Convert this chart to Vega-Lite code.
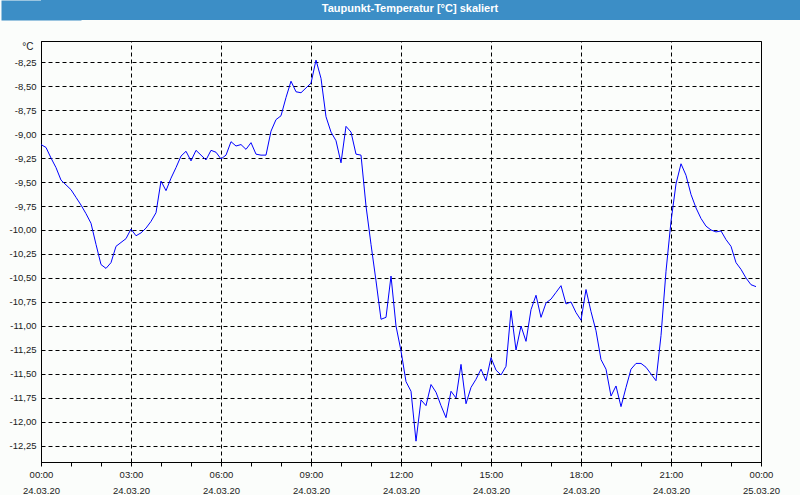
{
  "$schema": "https://vega.github.io/schema/vega-lite/v6.json",
  "padding": 0,
  "background": "#fbfdfb",
  "spacing": 20,
  "columns": 1,
  "align": "none",
  "config": {
    "font": "Liberation Sans",
    "view": {"stroke": null}
  },
  "concat": [
    {
      "width": 760,
      "height": 20,
      "view": {"fill": "#3c8ec6", "stroke": null},
      "data": {"values": [{"title": "Taupunkt-Temperatur [°C] skaliert"}]},
      "mark": {"type": "text", "color": "#ffffff", "font": "Liberation Sans", "fontSize": 11, "fontWeight": "bold", "baseline": "middle", "align": "center", "dx": -11, "dy": -1.5},
      "encoding": {
        "text": {"field": "title", "type": "nominal"},
        "y": {
          "datum": 0,
          "type": "quantitative",
          "scale": {"domain": [-1, 1]},
          "axis": {"title": null, "labels": false, "ticks": false, "grid": false, "domain": true, "domainColor": "#3c8ec6", "domainWidth": 80, "domainCap": "butt"}
        }
      }
    },
    {
      "width": 720,
      "height": 421,
      "view": {"stroke": "#000000", "strokeWidth": 1},
      "data": {"values": [
        {"t": "2020-03-24T00:00:00", "v": -9.11},
        {"t": "2020-03-24T00:10:00", "v": -9.14},
        {"t": "2020-03-24T00:20:00", "v": -9.25},
        {"t": "2020-03-24T00:30:00", "v": -9.35},
        {"t": "2020-03-24T00:40:00", "v": -9.48},
        {"t": "2020-03-24T00:50:00", "v": -9.53},
        {"t": "2020-03-24T01:00:00", "v": -9.58},
        {"t": "2020-03-24T01:10:00", "v": -9.66},
        {"t": "2020-03-24T01:20:00", "v": -9.74},
        {"t": "2020-03-24T01:30:00", "v": -9.83},
        {"t": "2020-03-24T01:40:00", "v": -9.93},
        {"t": "2020-03-24T01:50:00", "v": -10.15},
        {"t": "2020-03-24T02:00:00", "v": -10.36},
        {"t": "2020-03-24T02:10:00", "v": -10.40},
        {"t": "2020-03-24T02:20:00", "v": -10.34},
        {"t": "2020-03-24T02:30:00", "v": -10.17},
        {"t": "2020-03-24T02:40:00", "v": -10.13},
        {"t": "2020-03-24T02:50:00", "v": -10.09},
        {"t": "2020-03-24T03:00:00", "v": -9.99},
        {"t": "2020-03-24T03:10:00", "v": -10.06},
        {"t": "2020-03-24T03:20:00", "v": -10.03},
        {"t": "2020-03-24T03:30:00", "v": -9.98},
        {"t": "2020-03-24T03:40:00", "v": -9.91},
        {"t": "2020-03-24T03:50:00", "v": -9.82},
        {"t": "2020-03-24T04:00:00", "v": -9.49},
        {"t": "2020-03-24T04:10:00", "v": -9.59},
        {"t": "2020-03-24T04:20:00", "v": -9.46},
        {"t": "2020-03-24T04:30:00", "v": -9.35},
        {"t": "2020-03-24T04:40:00", "v": -9.23},
        {"t": "2020-03-24T04:50:00", "v": -9.18},
        {"t": "2020-03-24T05:00:00", "v": -9.28},
        {"t": "2020-03-24T05:10:00", "v": -9.17},
        {"t": "2020-03-24T05:20:00", "v": -9.22},
        {"t": "2020-03-24T05:30:00", "v": -9.27},
        {"t": "2020-03-24T05:40:00", "v": -9.17},
        {"t": "2020-03-24T05:50:00", "v": -9.19},
        {"t": "2020-03-24T06:00:00", "v": -9.26},
        {"t": "2020-03-24T06:10:00", "v": -9.22},
        {"t": "2020-03-24T06:20:00", "v": -9.08},
        {"t": "2020-03-24T06:30:00", "v": -9.125},
        {"t": "2020-03-24T06:40:00", "v": -9.11},
        {"t": "2020-03-24T06:50:00", "v": -9.16},
        {"t": "2020-03-24T07:00:00", "v": -9.09},
        {"t": "2020-03-24T07:10:00", "v": -9.21},
        {"t": "2020-03-24T07:20:00", "v": -9.22},
        {"t": "2020-03-24T07:30:00", "v": -9.22},
        {"t": "2020-03-24T07:40:00", "v": -8.97},
        {"t": "2020-03-24T07:50:00", "v": -8.85},
        {"t": "2020-03-24T08:00:00", "v": -8.81},
        {"t": "2020-03-24T08:10:00", "v": -8.62},
        {"t": "2020-03-24T08:20:00", "v": -8.45},
        {"t": "2020-03-24T08:30:00", "v": -8.56},
        {"t": "2020-03-24T08:40:00", "v": -8.57},
        {"t": "2020-03-24T08:50:00", "v": -8.52},
        {"t": "2020-03-24T09:00:00", "v": -8.47},
        {"t": "2020-03-24T09:10:00", "v": -8.23},
        {"t": "2020-03-24T09:20:00", "v": -8.42},
        {"t": "2020-03-24T09:30:00", "v": -8.82},
        {"t": "2020-03-24T09:40:00", "v": -8.98},
        {"t": "2020-03-24T09:50:00", "v": -9.07},
        {"t": "2020-03-24T10:00:00", "v": -9.30},
        {"t": "2020-03-24T10:10:00", "v": -8.92},
        {"t": "2020-03-24T10:20:00", "v": -8.98},
        {"t": "2020-03-24T10:30:00", "v": -9.21},
        {"t": "2020-03-24T10:40:00", "v": -9.22},
        {"t": "2020-03-24T10:50:00", "v": -9.75},
        {"t": "2020-03-24T11:00:00", "v": -10.15},
        {"t": "2020-03-24T11:10:00", "v": -10.53},
        {"t": "2020-03-24T11:20:00", "v": -10.93},
        {"t": "2020-03-24T11:30:00", "v": -10.91},
        {"t": "2020-03-24T11:40:00", "v": -10.48},
        {"t": "2020-03-24T11:50:00", "v": -11.0},
        {"t": "2020-03-24T12:00:00", "v": -11.26},
        {"t": "2020-03-24T12:10:00", "v": -11.58},
        {"t": "2020-03-24T12:20:00", "v": -11.68},
        {"t": "2020-03-24T12:30:00", "v": -12.2},
        {"t": "2020-03-24T12:40:00", "v": -11.77},
        {"t": "2020-03-24T12:50:00", "v": -11.83},
        {"t": "2020-03-24T13:00:00", "v": -11.61},
        {"t": "2020-03-24T13:10:00", "v": -11.69},
        {"t": "2020-03-24T13:20:00", "v": -11.83},
        {"t": "2020-03-24T13:30:00", "v": -11.955},
        {"t": "2020-03-24T13:40:00", "v": -11.68},
        {"t": "2020-03-24T13:50:00", "v": -11.75},
        {"t": "2020-03-24T14:00:00", "v": -11.40},
        {"t": "2020-03-24T14:10:00", "v": -11.81},
        {"t": "2020-03-24T14:20:00", "v": -11.64},
        {"t": "2020-03-24T14:30:00", "v": -11.555},
        {"t": "2020-03-24T14:40:00", "v": -11.45},
        {"t": "2020-03-24T14:50:00", "v": -11.57},
        {"t": "2020-03-24T15:00:00", "v": -11.33},
        {"t": "2020-03-24T15:10:00", "v": -11.46},
        {"t": "2020-03-24T15:20:00", "v": -11.51},
        {"t": "2020-03-24T15:30:00", "v": -11.42},
        {"t": "2020-03-24T15:40:00", "v": -10.84},
        {"t": "2020-03-24T15:50:00", "v": -11.25},
        {"t": "2020-03-24T16:00:00", "v": -11.0},
        {"t": "2020-03-24T16:10:00", "v": -11.16},
        {"t": "2020-03-24T16:20:00", "v": -10.83},
        {"t": "2020-03-24T16:30:00", "v": -10.68},
        {"t": "2020-03-24T16:40:00", "v": -10.91},
        {"t": "2020-03-24T16:50:00", "v": -10.76},
        {"t": "2020-03-24T17:00:00", "v": -10.72},
        {"t": "2020-03-24T17:10:00", "v": -10.65},
        {"t": "2020-03-24T17:20:00", "v": -10.58},
        {"t": "2020-03-24T17:30:00", "v": -10.77},
        {"t": "2020-03-24T17:40:00", "v": -10.75},
        {"t": "2020-03-24T17:50:00", "v": -10.86},
        {"t": "2020-03-24T18:00:00", "v": -10.94},
        {"t": "2020-03-24T18:10:00", "v": -10.62},
        {"t": "2020-03-24T18:20:00", "v": -10.85},
        {"t": "2020-03-24T18:30:00", "v": -11.05},
        {"t": "2020-03-24T18:40:00", "v": -11.35},
        {"t": "2020-03-24T18:50:00", "v": -11.45},
        {"t": "2020-03-24T19:00:00", "v": -11.73},
        {"t": "2020-03-24T19:10:00", "v": -11.625},
        {"t": "2020-03-24T19:20:00", "v": -11.84},
        {"t": "2020-03-24T19:30:00", "v": -11.64},
        {"t": "2020-03-24T19:40:00", "v": -11.45},
        {"t": "2020-03-24T19:50:00", "v": -11.39},
        {"t": "2020-03-24T20:00:00", "v": -11.39},
        {"t": "2020-03-24T20:10:00", "v": -11.43},
        {"t": "2020-03-24T20:20:00", "v": -11.50},
        {"t": "2020-03-24T20:30:00", "v": -11.57},
        {"t": "2020-03-24T20:40:00", "v": -11.10},
        {"t": "2020-03-24T20:50:00", "v": -10.43},
        {"t": "2020-03-24T21:00:00", "v": -9.91},
        {"t": "2020-03-24T21:10:00", "v": -9.52},
        {"t": "2020-03-24T21:20:00", "v": -9.31},
        {"t": "2020-03-24T21:30:00", "v": -9.43},
        {"t": "2020-03-24T21:40:00", "v": -9.63},
        {"t": "2020-03-24T21:50:00", "v": -9.77},
        {"t": "2020-03-24T22:00:00", "v": -9.88},
        {"t": "2020-03-24T22:10:00", "v": -9.96},
        {"t": "2020-03-24T22:20:00", "v": -10.0},
        {"t": "2020-03-24T22:30:00", "v": -10.02},
        {"t": "2020-03-24T22:40:00", "v": -10.01},
        {"t": "2020-03-24T22:50:00", "v": -10.10},
        {"t": "2020-03-24T23:00:00", "v": -10.17},
        {"t": "2020-03-24T23:10:00", "v": -10.34},
        {"t": "2020-03-24T23:20:00", "v": -10.41},
        {"t": "2020-03-24T23:30:00", "v": -10.50},
        {"t": "2020-03-24T23:40:00", "v": -10.57},
        {"t": "2020-03-24T23:50:00", "v": -10.59}
      ]},
      "encoding": {
        "y": {
          "field": "v",
          "type": "quantitative",
          "scale": {"domain": [-12.417, -8.031], "nice": false, "zero": false},
          "axis": {
            "title": "°C",
            "titleAngle": 0,
            "titleAlign": "right",
            "titleBaseline": "alphabetic",
            "titleX": -8,
            "titleY": 8,
            "titleFontSize": 10,
            "titleFontWeight": "normal",
            "titleColor": "#1a1a1a",
            "values": [-12.25, -12, -11.75, -11.5, -11.25, -11, -10.75, -10.5, -10.25, -10, -9.75, -9.5, -9.25, -9, -8.75, -8.5, -8.25],
            "labelExpr": "(datum.value < 0 ? '-' : '') + replace(format(abs(datum.value), '.2f'), '.', ',')",
            "labelFontSize": 9.5,
            "labelColor": "#1a1a1a",
            "labelPadding": 5,
            "ticks": false,
            "domainColor": "#000000",
            "grid": true,
            "gridColor": "#000000",
            "gridDash": [4, 3],
            "minExtent": 40,
            "maxExtent": 40
          }
        }
      },
      "layer": [
        {
          "mark": {"type": "line", "strokeOpacity": 0},
          "encoding": {
            "x": {
              "field": "t",
              "type": "temporal",
              "scale": {"domain": [{"year": 2020, "month": 3, "date": 24, "hours": 0}, {"year": 2020, "month": 3, "date": 25, "hours": 0}], "nice": false},
              "axis": {
                "orient": "top",
                "title": null,
                "values": [
                  {"year": 2020, "month": 3, "date": 24, "hours": 0},
                  {"year": 2020, "month": 3, "date": 24, "hours": 3},
                  {"year": 2020, "month": 3, "date": 24, "hours": 6},
                  {"year": 2020, "month": 3, "date": 24, "hours": 9},
                  {"year": 2020, "month": 3, "date": 24, "hours": 12},
                  {"year": 2020, "month": 3, "date": 24, "hours": 15},
                  {"year": 2020, "month": 3, "date": 24, "hours": 18},
                  {"year": 2020, "month": 3, "date": 24, "hours": 21},
                  {"year": 2020, "month": 3, "date": 25, "hours": 0}
                ],
                "labels": false,
                "ticks": false,
                "domain": false,
                "grid": true,
                "gridColor": "#000000",
                "gridDash": [4, 3]
              }
            }
          }
        },
        {
          "mark": {"type": "line", "color": "#0000ff", "strokeWidth": 1},
          "encoding": {
            "x": {
              "field": "t",
              "type": "temporal",
              "scale": {"domain": [{"year": 2020, "month": 3, "date": 24, "hours": 0}, {"year": 2020, "month": 3, "date": 25, "hours": 0}], "nice": false},
              "axis": {
                "orient": "bottom",
                "title": null,
                "values": [
                  {"year": 2020, "month": 3, "date": 24, "hours": 0},
                  {"year": 2020, "month": 3, "date": 24, "hours": 1},
                  {"year": 2020, "month": 3, "date": 24, "hours": 2},
                  {"year": 2020, "month": 3, "date": 24, "hours": 3},
                  {"year": 2020, "month": 3, "date": 24, "hours": 4},
                  {"year": 2020, "month": 3, "date": 24, "hours": 5},
                  {"year": 2020, "month": 3, "date": 24, "hours": 6},
                  {"year": 2020, "month": 3, "date": 24, "hours": 7},
                  {"year": 2020, "month": 3, "date": 24, "hours": 8},
                  {"year": 2020, "month": 3, "date": 24, "hours": 9},
                  {"year": 2020, "month": 3, "date": 24, "hours": 10},
                  {"year": 2020, "month": 3, "date": 24, "hours": 11},
                  {"year": 2020, "month": 3, "date": 24, "hours": 12},
                  {"year": 2020, "month": 3, "date": 24, "hours": 13},
                  {"year": 2020, "month": 3, "date": 24, "hours": 14},
                  {"year": 2020, "month": 3, "date": 24, "hours": 15},
                  {"year": 2020, "month": 3, "date": 24, "hours": 16},
                  {"year": 2020, "month": 3, "date": 24, "hours": 17},
                  {"year": 2020, "month": 3, "date": 24, "hours": 18},
                  {"year": 2020, "month": 3, "date": 24, "hours": 19},
                  {"year": 2020, "month": 3, "date": 24, "hours": 20},
                  {"year": 2020, "month": 3, "date": 24, "hours": 21},
                  {"year": 2020, "month": 3, "date": 24, "hours": 22},
                  {"year": 2020, "month": 3, "date": 24, "hours": 23},
                  {"year": 2020, "month": 3, "date": 25, "hours": 0}
                ],
                "labelExpr": "hours(datum.value) % 3 == 0 ? [timeFormat(datum.value, '%H:%M'), timeFormat(datum.value, '%d.%m.%y')] : ''",
                "labelOverlap": false,
                "labelFlush": false,
                "labelFontSize": 9.5,
                "labelColor": "#1a1a1a",
                "labelLineHeight": 16,
                "labelPadding": 3,
                "labelBaseline": "top",
                "tickSize": 4,
                "tickColor": "#000000",
                "domainColor": "#000000",
                "grid": false
              }
            }
          }
        }
      ],
      "resolve": {"axis": {"x": "independent"}}
    }
  ]
}
